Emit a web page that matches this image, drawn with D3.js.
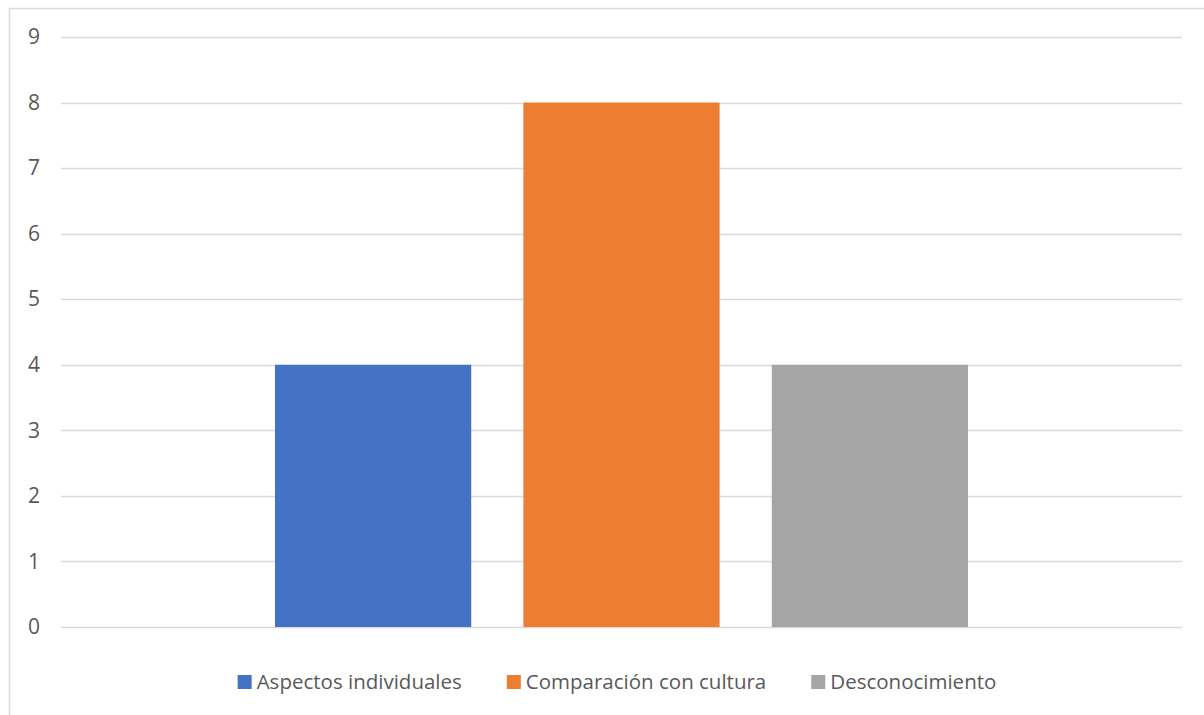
<!DOCTYPE html>
<html>
<head>
<meta charset="utf-8">
<script src="https://cdn.jsdelivr.net/npm/d3@7"></script>
<style>
    body { margin: 0; background: #fff; }
    text { font-family: "Open Sans", "Noto Sans", sans-serif; fill: #595959; }
</style>
</head>
<body>
<div id="chart"></div>
<script>
// data
const series = ["Aspectos individuales", "Comparación con cultura", "Desconocimiento"];
const values = [4, 8, 4];
const colors = ["#4472C4", "#ED7D31", "#A5A5A5"];
const yTicks = [0, 1, 2, 3, 4, 5, 6, 7, 8, 9];

const W = 1204, H = 715;
const margin = { top: 37, right: 22, left: 61 };

let svg = d3.select("#chart")
    .append("svg")
    .attr("width", W)
    .attr("height", H);

// chart border
svg.append("rect")
    .attr("x", 9.5)
    .attr("y", 8.5)
    .attr("width", W)
    .attr("height", H)
    .attr("fill", "none")
    .attr("stroke", "#d9d9d9")
    .attr("stroke-width", 1.5);

let g = svg.append("g")
    .attr("transform", "translate(" + margin.left + "," + margin.top + ")");

let width = W - margin.left - margin.right;
let height = 590;

// scales
let y = d3.scaleLinear().domain([0, 9]).range([height, 0]);
let x = d3.scaleBand().domain(series).range([214, 907]).paddingInner(0.21);

// gridlines
g.append("g")
    .selectAll("line")
    .data(yTicks)
    .join("line")
    .attr("x1", 0)
    .attr("x2", width)
    .attr("y1", d => Math.round(y(d)) + 0.5)
    .attr("y2", d => Math.round(y(d)) + 0.5)
    .attr("stroke", "#d9d9d9")
    .attr("stroke-width", 1.3);

// y axis labels
g.append("g")
    .call(d3.axisLeft(y).tickValues(yTicks).tickSize(0).tickPadding(21))
    .call(a => a.select(".domain").remove())
    .selectAll("text")
    .style("font-size", "21px")
    .attr("fill", "#595959");

// bars
g.append("g")
    .selectAll("rect")
    .data(values)
    .join("rect")
    .attr("x", (d, i) => x(series[i]))
    .attr("width", x.bandwidth())
    .attr("y", d => y(d))
    .attr("height", d => y(0) - y(d))
    .attr("fill", (d, i) => colors[i]);

// legend
let legend = svg.append("g");
let items = legend.selectAll("g")
    .data(series)
    .join("g");
items.append("rect")
    .attr("width", 14)
    .attr("height", 14)
    .attr("y", -14)
    .attr("fill", (d, i) => colors[i]);
items.append("text")
    .attr("x", 19)
    .attr("y", 0)
    .style("font-size", "20.5px")
    .text(d => d);

let gap = 45, pos = 0, offs = [];
items.each(function() {
    offs.push(pos);
    pos += 19 + this.querySelector("text").getComputedTextLength() + gap;
});
let total = pos - gap;
let start = 617 - total / 2;
items.attr("transform", (d, i) => "translate(" + (start + offs[i]) + ",689)");
</script>
</body>
</html>
